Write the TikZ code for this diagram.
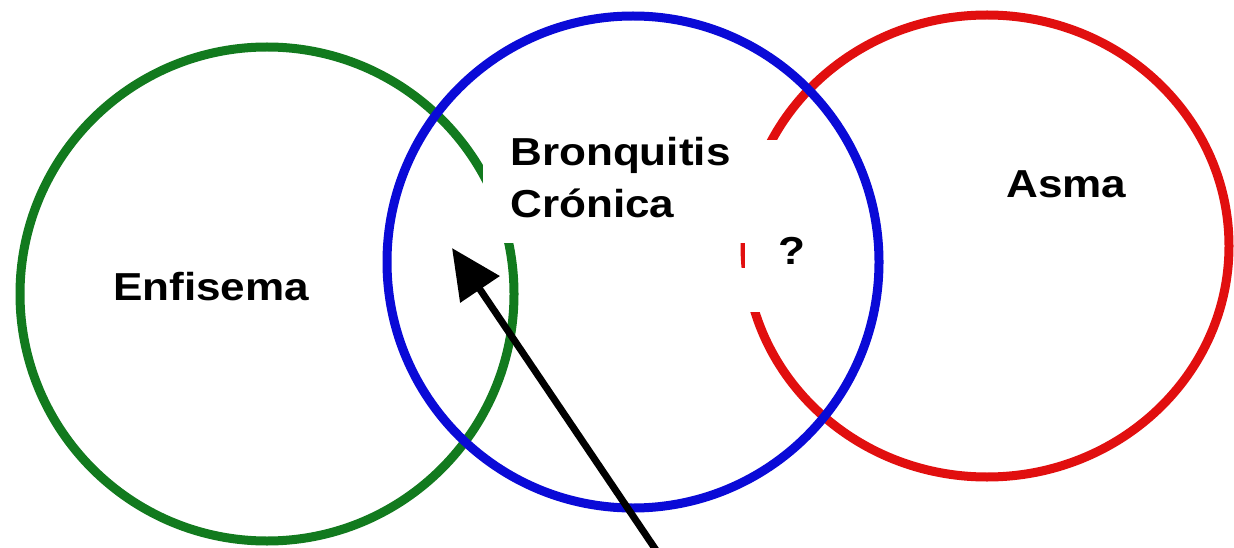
\documentclass[tikz,border=0pt]{standalone}
\usepackage{fontspec}
\setmainfont{Liberation Sans}
\usetikzlibrary{arrows.meta}
\definecolor{enfgreen}{RGB}{18,122,30}
\definecolor{bronblue}{RGB}{10,10,215}
\definecolor{asmared}{RGB}{225,15,15}
\tikzset{
  ring/.style={line width=9pt},
  label/.style={font=\fontsize{39}{52}\selectfont\bfseries, inner sep=0pt, anchor=base west, xscale=1.13},
  mask/.style={fill=white},
  pointer/.style={line width=7pt, -{Triangle[length=50pt, width=46pt]}}
}
\begin{document}
\begin{tikzpicture}[x=1pt, y=-1pt]
\useasboundingbox[fill=white] (0,0) rectangle (1234,548);
% circles
\draw[ring, draw=enfgreen] (267,294) circle[radius=247pt];
\draw[ring, draw=asmared] (987,246) ellipse[x radius=242pt, y radius=231pt];
\draw[ring, draw=bronblue] (633,262) circle[radius=246pt];
% white text backgrounds
\fill[mask] (483,140) rectangle (800,243);
\fill[mask] (745,240) rectangle (815,268);
\fill[mask] (738,268) rectangle (815,312);
% texts
\node[label] (bron) at (510,166) {Bronquitis};
\node[label] (cron) at (510,218) {Crónica};
\node[label] (enf) at (113,300) {Enfisema};
\node[label] (asma) at (1006,198) {Asma};
\node[label] (q) at (778,264) {?};
% arrow
\coordinate (tail) at (660,556);
\coordinate (tip) at (452,248);
\draw[pointer] (tail) -- (tip);
\end{tikzpicture}
\end{document}
